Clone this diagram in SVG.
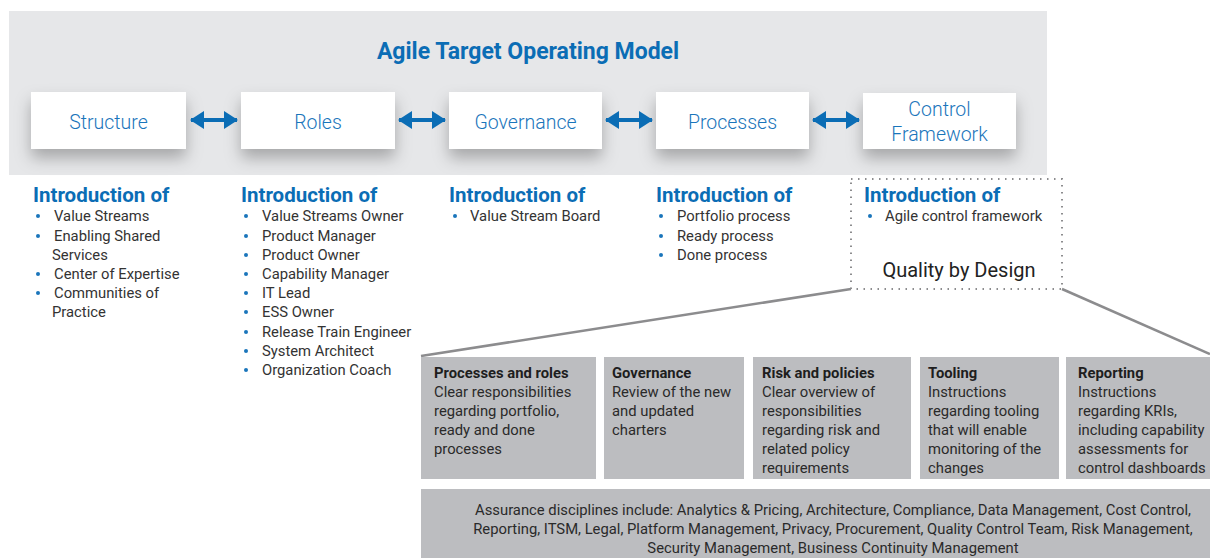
<svg xmlns="http://www.w3.org/2000/svg" width="1210" height="558" viewBox="0 0 1210 558">
<style>
.bg{fill:#e6e7e9}
.box{fill:#ffffff}
.lbl{font-family:Roboto,"Liberation Sans",sans-serif;font-weight:300;font-size:19.5px;fill:#1a75bb;text-anchor:middle}
.title{font-family:Roboto,"Liberation Sans",sans-serif;font-weight:700;font-size:23px;fill:#0b6db5;text-anchor:middle}
.head{font-family:Roboto,"Liberation Sans",sans-serif;font-weight:700;font-size:20.5px;fill:#0b6db5}
.li{font-family:Roboto,"Liberation Sans",sans-serif;font-size:14.8px;fill:#333333}
.dot{fill:#1a75bb}
.conn{stroke:#0b6db5;stroke-width:4;fill:none}
.gline{stroke:#8c8c8e;stroke-width:2.5;fill:none}
.dash{fill:none;stroke:#8c8c8e;stroke-width:2;stroke-dasharray:1.5 5.5}
.gbox{fill:#bcbdc0}
.bt{font-family:Roboto,"Liberation Sans",sans-serif;font-weight:700;font-size:14.8px;fill:#1e1e1e}
.bb{font-family:Roboto,"Liberation Sans",sans-serif;font-size:14.8px;fill:#2a2a2a}
.qd{font-family:Roboto,"Liberation Sans",sans-serif;font-size:20px;fill:#222222;text-anchor:middle}
</style>
<defs>
<filter id="sh" x="-20%" y="-30%" width="140%" height="190%">
<feDropShadow dx="0" dy="9" stdDeviation="8" flood-color="#000" flood-opacity="0.28"/>
</filter>
<marker id="ah" viewBox="0 0 14 18" refX="13" refY="9" markerWidth="3.5" markerHeight="4.5" orient="auto-start-reverse" markerUnits="strokeWidth">
<path d="M0,0 L14,9 L0,18 z" fill="#0b6db5"/>
</marker>
</defs>
<rect class="bg" x="9" y="11" width="1038" height="164"/>
<text class="title" x="528" y="59">Agile Target Operating Model</text>

<g id="structure"><rect class="box" x="31" y="92" width="155" height="57" filter="url(#sh)"/><text class="lbl" x="108.5" y="128.5">Structure</text></g>
<g id="roles"><rect class="box" x="241" y="92" width="154" height="57" filter="url(#sh)"/><text class="lbl" x="318" y="128.5">Roles</text></g>
<g id="governance"><rect class="box" x="449" y="92" width="153" height="57" filter="url(#sh)"/><text class="lbl" x="525.5" y="128.5">Governance</text></g>
<g id="processes"><rect class="box" x="656" y="92" width="153" height="57" filter="url(#sh)"/><text class="lbl" x="732.5" y="128.5">Processes</text></g>
<g id="control-framework"><rect class="box" x="863" y="93" width="153" height="56" filter="url(#sh)"/><text class="lbl" x="939.5" y="115.5">Control</text><text class="lbl" x="939.5" y="140.5">Framework</text></g>

<g id="connectors">
<line class="conn" x1="191" y1="120" x2="237" y2="120" marker-start="url(#ah)" marker-end="url(#ah)"/>
<line class="conn" x1="399" y1="120" x2="445" y2="120" marker-start="url(#ah)" marker-end="url(#ah)"/>
<line class="conn" x1="606" y1="120" x2="652" y2="120" marker-start="url(#ah)" marker-end="url(#ah)"/>
<line class="conn" x1="813" y1="120" x2="859" y2="120" marker-start="url(#ah)" marker-end="url(#ah)"/>
<line class="gline" x1="851" y1="289" x2="421" y2="356"/>
<line class="gline" x1="1062" y1="289" x2="1210" y2="354"/>
</g>

<g id="col-structure">
<text class="head" x="33" y="202">Introduction of</text>
<circle class="dot" cx="38" cy="216" r="2"/><text class="li" x="54" y="221">Value Streams</text>
<circle class="dot" cx="38" cy="236" r="2"/><text class="li" x="54" y="241">Enabling Shared</text>
<text class="li" x="52" y="260">Services</text>
<circle class="dot" cx="38" cy="274" r="2"/><text class="li" x="54" y="279">Center of Expertise</text>
<circle class="dot" cx="38" cy="293" r="2"/><text class="li" x="54" y="298">Communities of</text>
<text class="li" x="52" y="317">Practice</text>
</g>

<g id="col-roles">
<text class="head" x="241" y="202">Introduction of</text>
<circle class="dot" cx="246" cy="216" r="2"/><text class="li" x="262" y="221">Value Streams Owner</text>
<circle class="dot" cx="246" cy="236" r="2"/><text class="li" x="262" y="241">Product Manager</text>
<circle class="dot" cx="246" cy="255" r="2"/><text class="li" x="262" y="260">Product Owner</text>
<circle class="dot" cx="246" cy="274" r="2"/><text class="li" x="262" y="279">Capability Manager</text>
<circle class="dot" cx="246" cy="293" r="2"/><text class="li" x="262" y="298">IT Lead</text>
<circle class="dot" cx="246" cy="312" r="2"/><text class="li" x="262" y="317">ESS Owner</text>
<circle class="dot" cx="246" cy="332" r="2"/><text class="li" x="262" y="337">Release Train Engineer</text>
<circle class="dot" cx="246" cy="351" r="2"/><text class="li" x="262" y="356">System Architect</text>
<circle class="dot" cx="246" cy="370" r="2"/><text class="li" x="262" y="375">Organization Coach</text>
</g>

<g id="col-governance">
<text class="head" x="449" y="202">Introduction of</text>
<circle class="dot" cx="455" cy="216" r="2"/><text class="li" x="470" y="221">Value Stream Board</text>
</g>

<g id="col-processes">
<text class="head" x="656" y="202">Introduction of</text>
<circle class="dot" cx="661" cy="216" r="2"/><text class="li" x="677" y="221">Portfolio process</text>
<circle class="dot" cx="661" cy="236" r="2"/><text class="li" x="677" y="241">Ready process</text>
<circle class="dot" cx="661" cy="255" r="2"/><text class="li" x="677" y="260">Done process</text>
</g>

<g id="col-control">
<rect class="dash" x="851" y="179" width="211" height="110"/>
<text class="head" x="864" y="202">Introduction of</text>
<circle class="dot" cx="870" cy="216" r="2"/><text class="li" x="885" y="221">Agile control framework</text>
<text class="qd" x="959" y="277">Quality by Design</text>
</g>

<g id="box-processes-roles">
<rect class="gbox" x="421" y="357" width="175" height="122"/>
<text class="bt" x="434" y="378">Processes and roles</text>
<text class="bb" x="434" y="397">Clear responsibilities</text>
<text class="bb" x="434" y="416">regarding portfolio,</text>
<text class="bb" x="434" y="435">ready and done</text>
<text class="bb" x="434" y="454">processes</text>
</g>
<g id="box-governance">
<rect class="gbox" x="604" y="357" width="140" height="122"/>
<text class="bt" x="612" y="378">Governance</text>
<text class="bb" x="612" y="397">Review of the new</text>
<text class="bb" x="612" y="416">and updated</text>
<text class="bb" x="612" y="435">charters</text>
</g>
<g id="box-risk">
<rect class="gbox" x="753" y="357" width="158" height="122"/>
<text class="bt" x="762" y="378">Risk and policies</text>
<text class="bb" x="762" y="397">Clear overview of</text>
<text class="bb" x="762" y="416">responsibilities</text>
<text class="bb" x="762" y="435">regarding risk and</text>
<text class="bb" x="762" y="454">related policy</text>
<text class="bb" x="762" y="473">requirements</text>
</g>
<g id="box-tooling">
<rect class="gbox" x="920" y="357" width="139" height="122"/>
<text class="bt" x="928" y="378">Tooling</text>
<text class="bb" x="928" y="397">Instructions</text>
<text class="bb" x="928" y="416">regarding tooling</text>
<text class="bb" x="928" y="435">that will enable</text>
<text class="bb" x="928" y="454">monitoring of the</text>
<text class="bb" x="928" y="473">changes</text>
</g>
<g id="box-reporting">
<rect class="gbox" x="1066" y="357" width="144" height="122"/>
<text class="bt" x="1078" y="378">Reporting</text>
<text class="bb" x="1078" y="397">Instructions</text>
<text class="bb" x="1078" y="416">regarding KRIs,</text>
<text class="bb" x="1078" y="435">including capability</text>
<text class="bb" x="1078" y="454">assessments for</text>
<text class="bb" x="1078" y="473">control dashboards</text>
</g>
<g id="assurance">
<rect class="gbox" x="421" y="489" width="789" height="69"/>
<text class="bb" x="833" y="515" text-anchor="middle">Assurance disciplines include: Analytics &amp; Pricing, Architecture, Compliance, Data Management, Cost Control,</text>
<text class="bb" x="833" y="534" text-anchor="middle">Reporting, ITSM, Legal, Platform Management, Privacy, Procurement, Quality Control Team, Risk Management,</text>
<text class="bb" x="833" y="553" text-anchor="middle">Security Management, Business Continuity Management</text>
</g>
</svg>
